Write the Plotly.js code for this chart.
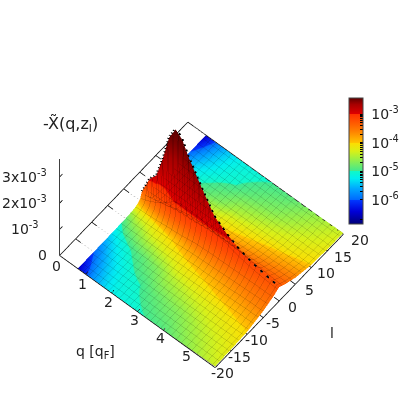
<!DOCTYPE html>
<html>
<head>
<meta charset="utf-8">
<script src="https://cdn.plot.ly/plotly-3.0.1.min.js"></script>
<style>html,body{margin:0;padding:0;background:#fff}#plot{width:407px;height:407px}</style>
</head>
<body>
<div id="plot"></div>
<script>
const qVals = [0.7,1,1.25,1.5,1.75,2,2.25,2.5,2.75,3,3.5,4,4.5,5,5.5,6];
const lVals = [-20,-15,-10,-5,-3,-2,-1,-0.5,0,0.5,1,2,3,5,10,15,20];
// one row per q value, one column per l value
const chi = [
[3e-7,1e-6,4e-6,1.4e-5,3.5e-5,6.5e-5,1.3e-4,2e-4,4e-4,2e-4,1.3e-4,6.5e-5,3.5e-5,1.4e-5,4e-6,1e-6,3e-7],
[8e-7,2.2e-6,6e-6,2.5e-5,5e-5,9e-5,2e-4,3.2e-4,1.1e-3,3.2e-4,2e-4,9e-5,5e-5,2.5e-5,6e-6,2.2e-6,8e-7],
[1.8e-6,3.5e-6,8e-6,3e-5,6e-5,1.1e-4,2.6e-4,4.5e-4,1.4e-3,4.5e-4,2.6e-4,1.1e-4,6e-5,3e-5,8e-6,3.5e-6,1.8e-6],
[3e-6,5e-6,1e-5,4e-5,7e-5,1.3e-4,3.2e-4,6e-4,2.2e-3,6e-4,3.2e-4,1.3e-4,7e-5,4e-5,1e-5,5e-6,3e-6],
[4.5e-6,6.5e-6,1.2e-5,5e-5,8.5e-5,1.6e-4,4e-4,8e-4,3.2e-3,8e-4,4e-4,1.6e-4,8.5e-5,5e-5,1.2e-5,6.5e-6,4.5e-6],
[6e-6,8e-6,1.4e-5,5.5e-5,1e-4,1.9e-4,5e-4,1e-3,3.7e-3,1e-3,5e-4,1.9e-4,1e-4,5.5e-5,1.4e-5,8e-6,6e-6],
[7e-6,9e-6,1.7e-5,6.5e-5,1.1e-4,2.1e-4,5.5e-4,1.1e-3,3.5e-3,1.1e-3,5.5e-4,2.1e-4,1.1e-4,6.5e-5,1.7e-5,9e-6,7e-6],
[7.5e-6,1e-5,2e-5,7.5e-5,1.3e-4,2.4e-4,6e-4,1.1e-3,3e-3,1.1e-3,6e-4,2.4e-4,1.3e-4,7.5e-5,2e-5,1e-5,7.5e-6],
[8e-6,1.2e-5,2.5e-5,8.5e-5,1.6e-4,2.8e-4,6e-4,1.1e-3,2.6e-3,1.1e-3,6e-4,2.8e-4,1.6e-4,8.5e-5,2.5e-5,1.2e-5,8e-6],
[9e-6,1.4e-5,3.2e-5,1e-4,1.9e-4,3.2e-4,6.5e-4,1.1e-3,2.2e-3,1.1e-3,6.5e-4,3.2e-4,1.9e-4,1e-4,3.2e-5,1.4e-5,9e-6],
[1.1e-5,1.8e-5,4e-5,1.2e-4,2.2e-4,3.5e-4,6.5e-4,9.5e-4,1.45e-3,9.5e-4,6.5e-4,3.5e-4,2.2e-4,1.2e-4,4e-5,1.8e-5,1.1e-5],
[1.3e-5,2.2e-5,5e-5,1.4e-4,2.5e-4,3.7e-4,6e-4,8.5e-4,1.1e-3,8.5e-4,6e-4,3.7e-4,2.5e-4,1.4e-4,5e-5,2.2e-5,1.3e-5],
[1.8e-5,3e-5,6e-5,1.7e-4,2.7e-4,3.8e-4,5.8e-4,7e-4,8.5e-4,7e-4,5.8e-4,3.8e-4,2.7e-4,1.7e-4,6e-5,3e-5,1.8e-5],
[2.5e-5,4e-5,7e-5,2e-4,3e-4,3.9e-4,5.2e-4,6e-4,7e-4,6e-4,5.2e-4,3.9e-4,3e-4,2e-4,7e-5,4e-5,2.5e-5],
[3.5e-5,5e-5,8.5e-5,2.3e-4,3.3e-4,4e-4,4.9e-4,5.4e-4,6e-4,5.4e-4,4.9e-4,4e-4,3.3e-4,2.3e-4,8.5e-5,5e-5,3.5e-5],
[4.5e-5,6.5e-5,1e-4,2.5e-4,3.5e-4,4e-4,4.6e-4,5e-4,5.3e-4,5e-4,4.6e-4,4e-4,3.5e-4,2.5e-4,1e-4,6.5e-5,4.5e-5]
];

const qTicks = [0,1,2,3,4,5];
const lTicks = [-20,-15,-10,-5,0,5,10,15,20];
const zTicks = [0,1e-3,2e-3,3e-3];
const zTickText = ["0","10<sup>-3</sup>","2x10<sup>-3</sup>","3x10<sup>-3</sup>"];
const cbDecades = [-6,-5,-4,-3];
const cbText = ["10<sup>-6</sup>","10<sup>-5</sup>","10<sup>-4</sup>","10<sup>-3</sup>"];
const cbMinor = [2,3,4,5,6,7,8,9];

const qMax = 6, lMin = -20, lMax = 20, zMax = 3.7e-3;
const cMin = -6.84, cMax = -2.44;
const font = "DejaVu Sans";

// palette has a small jump at each decade
const palette = [
  [-6.84,"#000078"],[-6.4,"#0000d8"],[-6.001,"#0038ff"],[-5.999,"#0068ff"],[-5.6,"#00a8ff"],
  [-5.25,"#00eef0"],[-5.001,"#10f8c8"],[-4.999,"#40e890"],[-4.55,"#a0f040"],[-4.3,"#d8f018"],[-4.001,"#ffdc00"],
  [-3.999,"#ffc400"],[-3.6,"#ff8000"],[-3.001,"#ff3000"],[-2.999,"#e00000"],[-2.67,"#a80000"],[-2.44,"#600000"]
];
const colorscale = palette.map(p => [(p[0]-cMin)/(cMax-cMin), p[1]]);

const surface = {
  type: "surface",
  x: qVals,
  y: lVals,
  z: lVals.map((l,j) => qVals.map((q,i) => chi[i][j])),
  surfacecolor: lVals.map((l,j) => qVals.map((q,i) => Math.log10(chi[i][j]))),
  cmin: cMin,
  cmax: cMax,
  colorscale: colorscale,
  opacity: 0.99, // below 1 the mesh lines blend instead of going white
  lighting: {ambient:1, diffuse:0, specular:0, fresnel:0, roughness:1},
  hoverinfo: "skip",
  contours: {
    x: {show:true, start:0.7, end:6, size:0.2, color:"rgba(0,0,0,0.25)", width:1},
    y: {show:true, start:-20, end:20, size:1.5, color:"rgba(0,0,0,0.25)", width:1},
    z: {show:false}
  },
  colorbar: {
    thickness: 14, thicknessmode: "pixels",
    len: 126, lenmode: "pixels",
    x: 0.8575, xanchor: "left", y: 1-98/407, yanchor: "top",
    xpad: 0, ypad: 0,
    outlinecolor: "#444", outlinewidth: 1,
    tickmode: "array",
    tickvals: cbDecades.concat(...cbDecades.map(d => cbMinor.map(m => d+Math.log10(m))).slice(0,3), [-6.7+0]),
    ticktext: cbText.map(t => "\u00a0"+t).concat(new Array(25).fill("")),
    ticks: "inside", ticklen: 3, tickcolor: "#000", tickwidth: 1,
    tickfont: {family:font, size:14, color:"#222"}
  }
};

function seg(x,y,z,color,width,dash){
  return {type:"scatter3d", mode:"lines", x:x, y:y, z:z, hoverinfo:"skip", showlegend:false,
    line:{color:color, width:width, dash:dash||"solid"}};
}

const traces = [surface];
// frame
traces.push(seg([0,0],[lMin,lMin],[0,zMax],"#000",1.5));
traces.push(seg([0,qMax],[lMin,lMin],[0,0],"#000",1.5));
traces.push(seg([qMax,qMax],[lMin,lMax],[0,0],"#000",1.5));
traces.push(seg([0,0],[lMin,lMax],[0,0],"#000",1.5));
traces.push(seg([0,qMax],[lMax,lMax],[0,0],"#000",1.5));
// ticks
lTicks.forEach(l => {
  traces.push(seg([0,0.2],[l,l],[0,0],"#000",1.5));
  traces.push(seg([0.2,0.7],[l,l],[0,0],"#aaa",1,"dot"));
  traces.push(seg([qMax-0.2,qMax],[l,l],[0,0],"#000",1.5));
});
qTicks.forEach(q => traces.push(seg([q,q],[lMin,lMin+0.8],[0,0],"#000",1.5)));
zTicks.forEach(z => traces.push(seg([0,0],[lMin,lMin+0.9],[z,z],"#000",1.5)));
// ridge at l = 0, lifted a hair so the surface does not eat it
const l0 = lVals.indexOf(0);
traces.push(seg(qVals,qVals.map(q => 0),chi.map(r => r[l0]*1.015),"#000",4,"dash"));

const sceneNotes = [];
function note(x,y,z,text,xs,ys){
  sceneNotes.push({x:x,y:y,z:z,text:text,showarrow:false,xshift:xs,yshift:ys,
    font:{family:font,size:14,color:"#222"}});
}
qTicks.forEach(q => note(q,lMin,0,String(q),-3,-11+0.8*q));
lTicks.forEach(l => note(qMax,l,0,String(l),l<0?11+0.2*l:13+0.2*l,-6));
zTicks.forEach((z,i) => note(0,lMin,z,zTickText[i],i==0?-17:-35,i==0?0:1));

const hidden = {visible:true, showgrid:false, zeroline:false, showline:false, showticklabels:false,
  showspikes:false, showbackground:false, ticks:"", title:{text:""}};

const layout = {
  width: 407, height: 407,
  margin: {l:0,r:0,t:0,b:0},
  paper_bgcolor: "#fff",
  showlegend: false,
  font: {family:font},
  scene: {
    domain: {x:[0,0.99], y:[0.035,1]},
    bgcolor: "#fff",
    aspectmode: "manual",
    aspectratio: {x:1.03, y:1.02, z:0.985},
    camera: {
      projection: {type:"orthographic"},
      up: {x:0,y:0,z:1},
      center: {x:0,y:0,z:0},
      eye: {x:0.621,y:-0.746,z:1.682}
    },
    xaxis: Object.assign({range:[0,qMax]}, hidden),
    yaxis: Object.assign({range:[lMin,lMax]}, hidden),
    zaxis: Object.assign({range:[0,zMax]}, hidden),
    annotations: sceneNotes
  },
  annotations: [
    {xref:"paper",yref:"paper",x:70/407,y:1-124/407,xanchor:"center",yanchor:"middle",text:"-X\u0303(q,z<sub>l</sub>)",showarrow:false,font:{family:font,size:16,color:"#222"}},
    {xref:"paper",yref:"paper",x:95/407,y:1-352/407,xanchor:"center",yanchor:"middle",text:"q [q<sub>F</sub>]",showarrow:false,font:{family:font,size:14,color:"#222"}},
    {xref:"paper",yref:"paper",x:332/407,y:1-333/407,xanchor:"center",yanchor:"middle",text:"l",showarrow:false,font:{family:font,size:14,color:"#222"}}
  ]
};

Plotly.newPlot("plot", traces, layout, {displayModeBar:false});
</script>
</body>
</html>
